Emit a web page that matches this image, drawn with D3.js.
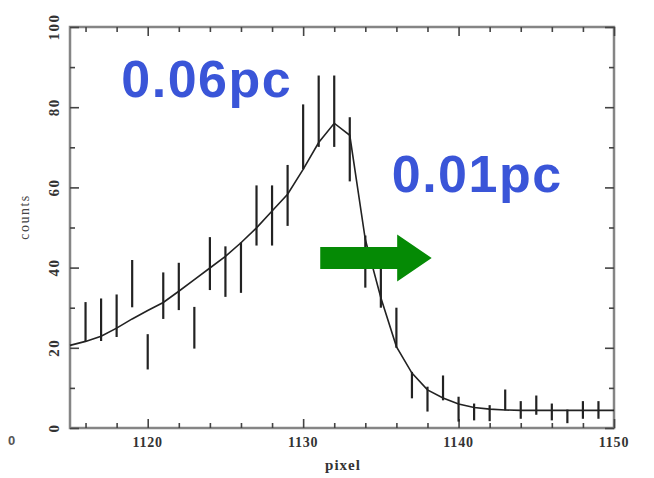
<!DOCTYPE html>
<html>
<head>
<meta charset="utf-8">
<script src="https://cdn.jsdelivr.net/npm/d3@7"></script>
<style>
  html, body { margin: 0; padding: 0; background: #fff; }
  svg { display: block; }
</style>
</head>
<body>
<svg id="chart" width="654" height="478"></svg>
<script>
// ---- data ----
const pixels = [1116,1117,1118,1119,1120,1121,1122,1123,1124,1125,1126,1127,1128,1129,1130,1131,1132,1133,
                1134,1135,1136,1137,1138,1139,1140,1141,1142,1143,1144,1145,1146,1147,1148,1149];
const counts = [26.5,27,28,36,19,33,35.3,25,41,39,40,53,53,58,72.6,79,79,69.5,
                41.5,36,25,10.7,7.2,10,4.7,4,3.7,7,4.5,5.7,4,2.9,4.5,4.5];
const errors = [4.9,5.3,5.3,5.9,4.4,5.8,5.9,5.2,6.6,6.3,6.3,7.5,7.5,7.6,8.1,8.9,8.9,8,
                6.5,6,5,3.3,3.1,3.1,3.1,2.1,2,2.6,2.2,2.4,2.1,1.7,2.2,2.2];
const modelPixels = [1115,1116,1117,1118,1119,1120,1121,1122,1123,1124,1125,1126,1127,1128,1129,1130,1131,1132,
                     1133,1134,1135,1136,1137,1138,1139,1140,1141,1142,1143,1144,1145,1146,1147,1148,1149,1150];
const modelCounts = [20.6,21.6,22.9,24.9,27.2,29.3,31.3,34.1,37.0,39.9,42.8,46.2,49.9,54.1,58.3,64.5,71.2,76.0,
                     73.0,47,32.5,20.3,13.7,9.5,7.5,6.0,5.1,4.7,4.5,4.4,4.4,4.4,4.4,4.4,4.4,4.4];
const xMajor = [1120,1130,1140,1150];
const xMinor = [1116,1118,1122,1124,1126,1128,1132,1134,1136,1138,1142,1144,1146,1148];
const yMajor = [0,20,40,60,80,100];
const yMinor = [10,30,50,70,90];
const annotations = [{text:"0.06pc", px:1118.3, cy:96.5}, {text:"0.01pc", px:1135.7, cy:191.5}];

// ---- layout ----
const svg = d3.select("#chart");
const x = d3.scaleLinear().domain([1115,1150]).range([70,614]);
const y = d3.scaleLinear().domain([0,100]).range([428,27]);
const frameCol = "#858585";
const inkCol = "#222";

// frame
svg.append("rect").attr("x", x(1115)).attr("y", y(100))
  .attr("width", x(1150)-x(1115)).attr("height", y(0)-y(100))
  .attr("fill","none").attr("stroke", frameCol).attr("stroke-width", 2.5);

function styleAxis(g){
  g.select(".domain").remove();
  g.selectAll(".tick line").attr("stroke", "#444").attr("stroke-width", 1.6);
  g.selectAll("text").remove();
}
// bottom ticks
svg.append("g").attr("transform",`translate(0,${y(0)})`)
  .call(d3.axisBottom(x).tickValues(xMinor).tickSize(-5)).call(styleAxis);
svg.append("g").attr("transform",`translate(0,${y(0)})`)
  .call(d3.axisBottom(x).tickValues(xMajor).tickSize(-9)).call(styleAxis);
// top ticks
svg.append("g").attr("transform",`translate(0,${y(100)})`)
  .call(d3.axisTop(x).tickValues(xMinor).tickSize(-5)).call(styleAxis);
svg.append("g").attr("transform",`translate(0,${y(100)})`)
  .call(d3.axisTop(x).tickValues(xMajor).tickSize(-9)).call(styleAxis);
// left ticks
svg.append("g").attr("transform",`translate(${x(1115)},0)`)
  .call(d3.axisLeft(y).tickValues(yMinor).tickSize(-5)).call(styleAxis);
svg.append("g").attr("transform",`translate(${x(1115)},0)`)
  .call(d3.axisLeft(y).tickValues(yMajor).tickSize(-9)).call(styleAxis);
// right ticks
svg.append("g").attr("transform",`translate(${x(1150)},0)`)
  .call(d3.axisRight(y).tickValues(yMinor).tickSize(-5)).call(styleAxis);
svg.append("g").attr("transform",`translate(${x(1150)},0)`)
  .call(d3.axisRight(y).tickValues(yMajor).tickSize(-9)).call(styleAxis);

// x tick labels
svg.append("g").selectAll("text").data(xMajor).join("text")
  .attr("x", d => x(d)).attr("y", 447)
  .attr("text-anchor","middle")
  .attr("font-family","'Liberation Serif', 'DejaVu Serif', serif")
  .attr("font-size", 14).attr("font-weight","bold").attr("letter-spacing", 0.8)
  .attr("fill", "#333").text(d => d);
// y tick labels (rotated)
svg.append("g").selectAll("text").data(yMajor).join("text")
  .attr("transform", d => `translate(59,${y(d)}) rotate(-90)`)
  .attr("text-anchor","middle")
  .attr("font-family","'Liberation Serif', 'DejaVu Serif', serif")
  .attr("font-size", 15).attr("font-weight","bold").attr("letter-spacing", 1.5)
  .attr("fill", "#333").text(d => d);
// axis titles
svg.append("text").attr("x", 343).attr("y", 470).attr("text-anchor","middle")
  .attr("font-family","'Liberation Serif', 'DejaVu Serif', serif")
  .attr("font-size", 15).attr("font-weight","bold").attr("letter-spacing", 1).attr("fill","#333").text("pixel");
svg.append("text").attr("transform","translate(29,217) rotate(-90)").attr("text-anchor","middle")
  .attr("font-family","'Liberation Serif', 'DejaVu Serif', serif")
  .attr("font-size", 14).attr("letter-spacing", 1.5).attr("fill","#444").text("counts");
// stray scan remnant
svg.append("text").attr("x", 8).attr("y", 445).attr("font-family","'Liberation Sans', sans-serif")
  .attr("font-size", 13).attr("font-weight","bold").attr("fill","#555").text("0");

// error bars
svg.append("g").selectAll("line").data(pixels).join("line")
  .attr("x1", d => x(d)).attr("x2", d => x(d))
  .attr("y1", (d,i) => y(counts[i] - errors[i]))
  .attr("y2", (d,i) => y(counts[i] + errors[i]))
  .attr("stroke", inkCol).attr("stroke-width", 2.2);

// model curve
const line = d3.line().x(d => x(d[0])).y(d => y(d[1]));
svg.append("path").datum(modelPixels.map((p,i) => [p, modelCounts[i]]))
  .attr("d", line).attr("fill","none").attr("stroke", inkCol).attr("stroke-width", 1.6);

// arrow (green)
const arrowStart = x(1131.1), arrowBodyEnd = x(1136.05), arrowTip = x(1138.27);
const ac = 258;
svg.append("path")
  .attr("d", `M${arrowStart},${ac-11} L${arrowBodyEnd},${ac-11} L${arrowBodyEnd},${ac-23.5} L${arrowTip},${ac} L${arrowBodyEnd},${ac+23.5} L${arrowBodyEnd},${ac+11} L${arrowStart},${ac+11} Z`)
  .attr("fill", "#058a05");

// annotations
svg.append("g").selectAll("text").data(annotations).join("text")
  .attr("x", d => x(d.px)).attr("y", d => d.cy)
  .attr("font-family","'Liberation Sans', Arial, sans-serif")
  .attr("font-size", 52).attr("font-weight","bold").attr("letter-spacing", 1.5)
  .attr("fill", "#3a55d8").text(d => d.text);
</script>
</body>
</html>
